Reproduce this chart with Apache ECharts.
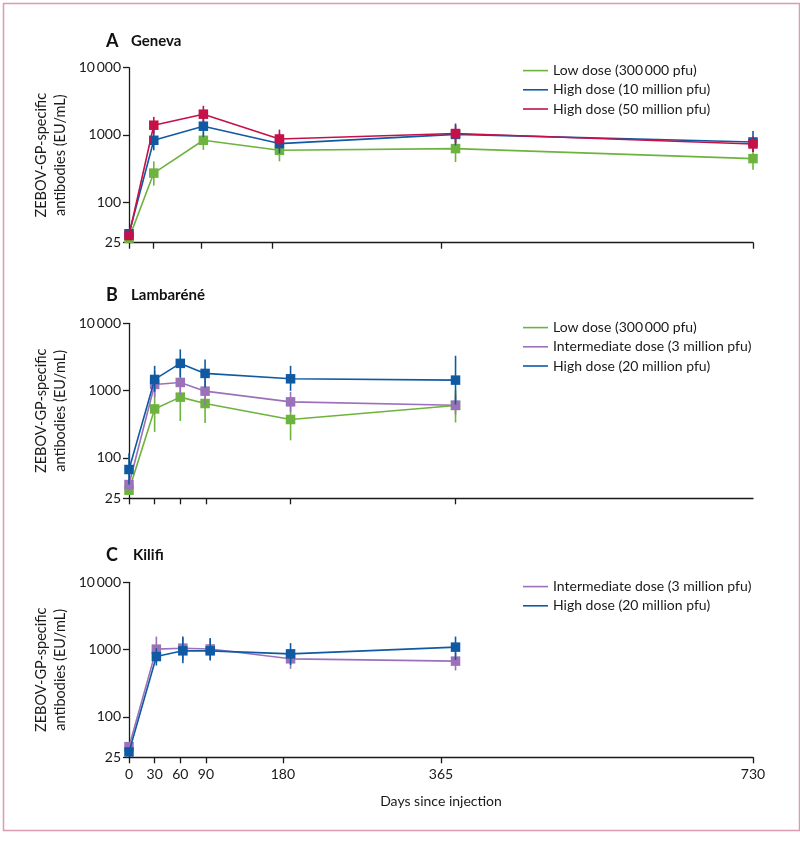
<!DOCTYPE html>
<html><head><meta charset="utf-8">
<script src="https://cdn.jsdelivr.net/npm/echarts@6/dist/echarts.min.js"></script>
<style>html,body{margin:0;padding:0;background:#fff}#c{width:800px;height:843px}</style>
</head><body><div id="c"></div>
<script>
// ---------- DATA ----------
const xTickLabels = [0, 30, 60, 90, 180, 365, 730];
const ticksA = [0, 28, 84, 168, 365, 730];
const ticksB = [0, 30, 60, 90, 189, 382];
const yTicks = [25, 100, 1000, 10000];

// Panel A - Geneva
const daysA = [0, 29, 87, 176, 382, 730];
const genevaLow = [29, 271, 833, 591, 627, 445];
const genevaLowLo = [26, 177, 600, 405, 396, 305];
const genevaLowHi = [33, 405, 1100, 860, 980, 650];
const geneva10 = [34, 833, 1349, 744, 1020, 787];
const geneva10Lo = [30, 591, 934, 530, 700, 557];
const geneva10Hi = [38, 1180, 1960, 1050, 1480, 1148];
const geneva50 = [32, 1396, 2037, 871, 1050, 734];
const geneva50Lo = [28, 1060, 1540, 630, 760, 560];
const geneva50Hi = [36, 1857, 2710, 1200, 1400, 950];

// Panel B - Lambaréné
const daysB = [0, 30, 60, 89, 189, 382];
const lambLow = [33, 533, 798, 642, 371, 600];
const lambLowLo = [28, 243, 353, 330, 182, 335];
const lambLowHi = [38, 1300, 1500, 1200, 720, 1000];
const lambMid = [40, 1233, 1320, 980, 679, 606];
const lambMidLo = [33, 800, 860, 600, 482, 440];
const lambMidHi = [48, 1946, 2134, 1640, 957, 853];
const lambHigh = [67, 1463, 2535, 1798, 1495, 1429];
const lambHighLo = [40, 957, 1570, 1110, 990, 620];
const lambHighHi = [117, 2333, 4097, 2906, 2333, 3290];

// Panel C - Kilifi
const daysC = [0, 32, 63, 95, 189, 382];
const kilMid = [36, 1014, 1048, 1020, 728, 673];
const kilMidLo = [31, 650, 700, 700, 517, 488];
const kilMidHi = [42, 1560, 1500, 1450, 1000, 900];
const kilHigh = [30, 787, 957, 957, 863, 1086];
const kilHighLo = [27, 579, 628, 687, 590, 700];
const kilHighHi = [34, 1050, 1560, 1480, 1245, 1560];

const nLow = 'Low dose (300\u2009000 pfu)';
const nHigh10 = 'High dose (10 million pfu)';
const nHigh50 = 'High dose (50 million pfu)';
const nMid = 'Intermediate dose (3 million pfu)';
const nHigh20 = 'High dose (20 million pfu)';

// ---------- STYLE ----------
const GREEN = '#6db33f', BLUE = '#0f5aa3', RED = '#c51148', PURPLE = '#9b72b9';
const FONT = 'Lato';
const gridTops = [67.7, 323.3, 582.3];
const GRID_H = 175, GRID_L = 129, GRID_W = 624;

const chart = echarts.init(document.getElementById('c'), null, {renderer: 'canvas'});

function lineSeries(name, idx, days, vals, color, z) {
  return {
    type: 'line', name, xAxisIndex: idx, yAxisIndex: idx,
    data: days.map((d, i) => [d, vals[i]]),
    symbol: 'rect', symbolSize: 9.5, showSymbol: true,
    lineStyle: {color, width: 1.6}, itemStyle: {color},
    z, animation: false
  };
}
function errSeries(idx, days, lo, hi, color, z) {
  return {
    type: 'custom', name: 'err' + idx + color, xAxisIndex: idx, yAxisIndex: idx,
    data: days.map((d, i) => [d, lo[i], hi[i]]),
    renderItem: function (params, api) {
      const p1 = api.coord([api.value(0), api.value(1)]);
      const p2 = api.coord([api.value(0), api.value(2)]);
      return {type: 'line', shape: {x1: p1[0], y1: p1[1], x2: p2[0], y2: p2[1]},
        style: {stroke: color, lineWidth: 1.6}};
    },
    z, animation: false, silent: true
  };
}

const grids = gridTops.map(t => ({left: GRID_L, top: t, width: GRID_W, height: GRID_H}));

const xAxes = [0, 1, 2].map(i => ({
  type: 'value', gridIndex: i, min: 0, max: 730,
  axisLine: {lineStyle: {color: '#1a1a1a', width: 1.3}},
  axisTick: {show: true, length: 6, lineStyle: {color: '#1a1a1a', width: 1.3},
    customValues: i === 0 ? ticksA : (i === 1 ? ticksB : xTickLabels)},
  axisLabel: {show: i === 2, customValues: xTickLabels, margin: 10,
    fontFamily: FONT, fontSize: 14, color: '#1a1a1a'},
  splitLine: {show: false},
  name: i === 2 ? 'Days since injection' : '',
  nameLocation: 'middle', nameGap: 37, nameMoveOverlap: false,
  nameTextStyle: {fontFamily: FONT, fontSize: 14, color: '#1a1a1a'}
}));

const yAxes = [0, 1, 2].map(i => ({
  type: 'log', logBase: 10, gridIndex: i, min: 25, max: 10000,
  axisLine: {show: true, lineStyle: {color: '#1a1a1a', width: 1.3}},
  axisTick: {show: true, length: 6, lineStyle: {color: '#1a1a1a', width: 1.3}},
  axisLabel: {margin: 8, fontFamily: FONT, fontSize: 14, color: '#1a1a1a',
    formatter: v => { const r = Math.round(v); return r === 10000 ? '10\u2009000' : String(r); }},
  splitLine: {show: false},
  name: 'ZEBOV-GP-specific\nantibodies (EU/mL)',
  nameLocation: 'middle', nameGap: 59, nameRotate: 90, nameMoveOverlap: false,
  nameTextStyle: {fontFamily: FONT, fontSize: 14.5, color: '#1a1a1a', lineHeight: 19, align: 'center'}
}));

function legend(top, names) {
  return {
    left: 518, top: top, orient: 'vertical', itemGap: 0,
    itemWidth: 25, itemHeight: 1.6, icon: 'rect',
    textStyle: {fontFamily: FONT, fontSize: 14, color: '#1a1a1a', lineHeight: 19.2},
    data: names, selectedMode: false
  };
}

const series = [
  errSeries(0, daysA, genevaLowLo, genevaLowHi, GREEN, 2),
  lineSeries(nLow, 0, daysA, genevaLow, GREEN, 3),
  errSeries(0, daysA, geneva10Lo, geneva10Hi, BLUE, 4),
  lineSeries(nHigh10, 0, daysA, geneva10, BLUE, 5),
  errSeries(0, daysA, geneva50Lo, geneva50Hi, RED, 6),
  lineSeries(nHigh50, 0, daysA, geneva50, RED, 7),

  errSeries(1, daysB, lambLowLo, lambLowHi, GREEN, 2),
  lineSeries(nLow, 1, daysB, lambLow, GREEN, 3),
  errSeries(1, daysB, lambMidLo, lambMidHi, PURPLE, 4),
  lineSeries(nMid, 1, daysB, lambMid, PURPLE, 5),
  errSeries(1, daysB, lambHighLo, lambHighHi, BLUE, 6),
  lineSeries(nHigh20, 1, daysB, lambHigh, BLUE, 7),

  errSeries(2, daysC, kilMidLo, kilMidHi, PURPLE, 4),
  lineSeries(nMid, 2, daysC, kilMid, PURPLE, 5),
  errSeries(2, daysC, kilHighLo, kilHighHi, BLUE, 6),
  lineSeries(nHigh20, 2, daysC, kilHigh, BLUE, 7)
];

const titleStyle = (t, x, y, size) => ({type: 'text', left: x, top: y,
  style: {text: t, fontFamily: FONT, fontWeight: 'bold', fontSize: size, fill: '#111'}});

chart.setOption({
  animation: false,
  backgroundColor: '#fff',
  grid: grids,
  xAxis: xAxes,
  yAxis: yAxes,
  legend: [legend(56, [nLow, nHigh10, nHigh50]), legend(313, [nLow, nMid, nHigh20]), legend(572, [nMid, nHigh20])],
  series,
  graphic: [
    {type: 'rect', left: 1, top: 1, shape: {width: 796, height: 827},
      style: {fill: 'none', stroke: '#dc9bb1', lineWidth: 1.5}, silent: true},
    titleStyle('A', 106, 32, 18), titleStyle('Geneva', 131, 34, 15),
    titleStyle('B', 106, 286, 18), titleStyle('Lambaréné', 131, 288, 15),
    titleStyle('C', 106, 546, 18), titleStyle('Kilifi', 133, 548, 15)
  ]
});
</script></body></html>
